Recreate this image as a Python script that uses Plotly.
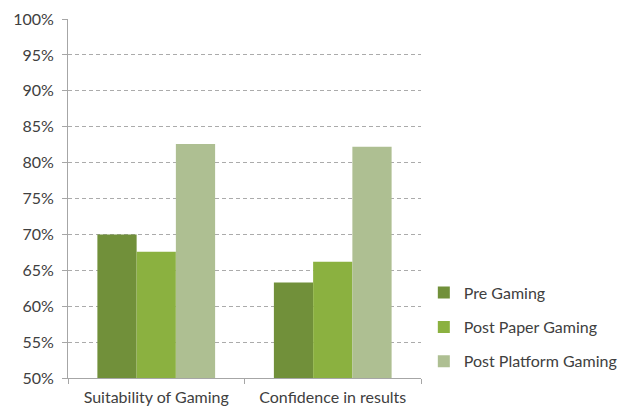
import plotly.graph_objects as go

categories = ["Suitability of Gaming", "Confidence in results"]
series_names = ["Pre Gaming", "Post Paper Gaming", "Post Platform Gaming"]
pre_gaming = [0.700, 0.633]
post_paper = [0.676, 0.662]
post_platform = [0.826, 0.822]
tick_vals = [0.50, 0.55, 0.60, 0.65, 0.70, 0.75, 0.80, 0.85, 0.90, 0.95, 1.00]
tick_text = ["50%", "55%", "60%", "65%", "70%", "75%", "80%", "85%", "90%", "95%", "100%"]

colors = ["#71903A", "#8BB140", "#AEBF92"]
values = [pre_gaming, post_paper, post_platform]

fig = go.Figure()
for i, (name, vals) in enumerate(zip(series_names, values)):
    fig.add_trace(go.Bar(
        x=categories, y=vals, name=name,
        marker=dict(color=colors[i], line=dict(width=0)),
        legendgroup=name,
    ))

font_family = "Lato, 'Open Sans', sans-serif"
txt_color = "#404040"
fig.update_layout(
    width=625, height=410,
    margin=dict(l=68, r=204, t=19, b=32, autoexpand=False),
    paper_bgcolor="white", plot_bgcolor="white",
    barmode="group", bargap=0.333, bargroupgap=0,
    font=dict(family=font_family, size=16, color=txt_color),
    showlegend=True,
    legend=dict(
        x=1.008, xanchor="left", y=0.285, yanchor="top",
        traceorder="grouped", tracegroupgap=10.5,
        font=dict(size=16, color=txt_color),
        itemwidth=30,
        bgcolor="rgba(0,0,0,0)",
    ),
    xaxis=dict(
        showline=True, linecolor="#A6A6A6", linewidth=1,
        ticks="outside", tickson="boundaries", ticklen=5, tickcolor="#A6A6A6",
        showgrid=False, tickfont=dict(size=16, color=txt_color),
        ticklabelstandoff=5,
        automargin=False,
    ),
    yaxis=dict(
        range=[0.5, 1.0], tickvals=tick_vals, ticktext=tick_text,
        showline=True, linecolor="#A6A6A6", linewidth=1,
        ticks="outside", ticklen=5, tickcolor="#A6A6A6",
        showgrid=True, gridcolor="#ABABAB", griddash="4px,3px", gridwidth=1,
        zeroline=False, tickfont=dict(size=16, color=txt_color),
        ticklabelstandoff=5,
        automargin=False,
    ),
)

fig.write_html("out.html", config={"displayModeBar": False},
               post_script="document.body.style.margin='0';")
